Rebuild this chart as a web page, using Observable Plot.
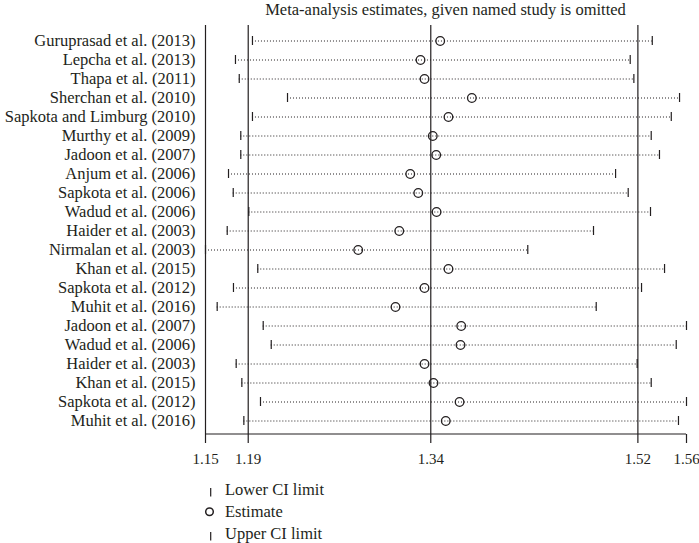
<!DOCTYPE html>
<html><head><meta charset="utf-8">
<script src="https://cdn.jsdelivr.net/npm/d3@7"></script>
<script src="https://cdn.jsdelivr.net/npm/@observablehq/plot@0.6"></script>
<style>
body{margin:0;background:#fff;font-family:"Liberation Serif",serif;color:#231f20;}
#wrap{position:relative;width:699px;height:543px;overflow:hidden;}
#title{position:absolute;left:205px;width:481px;top:1px;text-align:center;font-size:16.5px;line-height:18px;white-space:nowrap;}
#chart{position:absolute;left:0;top:25px;}
#chart svg text{font-family:"Liberation Serif",serif;}
#legend{position:absolute;left:200px;top:479px;font-size:16.5px;line-height:22px;}
.li{display:flex;align-items:center;height:22px;}
.li svg{width:25px;height:22px;flex:none;}
</style></head>
<body><div id="wrap">
<div id="title">Meta-analysis estimates, given named study is omitted</div>
<div id="chart"></div>
<div id="legend"></div>
</div>
<script>
const studies = ["Guruprasad et al. (2013)","Lepcha et al. (2013)","Thapa et al. (2011)","Sherchan et al. (2010)","Sapkota and Limburg (2010)","Murthy et al. (2009)","Jadoon et al. (2007)","Anjum et al. (2006)","Sapkota et al. (2006)","Wadud et al. (2006)","Haider et al. (2003)","Nirmalan et al. (2003)","Khan et al. (2015)","Sapkota et al. (2012)","Muhit et al. (2016)","Jadoon et al. (2007)","Wadud et al. (2006)","Haider et al. (2003)","Khan et al. (2015)","Sapkota et al. (2012)","Muhit et al. (2016)"];
const lower    = [1.1908,1.1764,1.1796,1.2205,1.1908,1.1809,1.1809,1.1705,1.1745,1.1877,1.1694,1.1510,1.1953,1.1747,1.1609,1.1999,1.2067,1.1770,1.1818,1.1976,1.1835];
const estimate = [1.3499,1.3332,1.3366,1.3767,1.3569,1.3436,1.3465,1.3245,1.3313,1.3468,1.3152,1.2804,1.3569,1.3366,1.3120,1.3677,1.3671,1.3366,1.3442,1.3663,1.3546];
const upper    = [1.5296,1.5109,1.5140,1.5527,1.5457,1.5287,1.5357,1.4985,1.5092,1.5281,1.4798,1.4241,1.5400,1.5205,1.4821,1.5586,1.5499,1.5168,1.5287,1.5586,1.5518];
const overall  = [1.1872,1.3419,1.5174];
const tickValues = [1.151,1.1872,1.3419,1.5174,1.5586];
const legendLabels = ["Lower CI limit","Estimate","Upper CI limit"];

const rows = studies.map((s,i)=>({i, name:s, lo:lower[i], est:estimate[i], hi:upper[i]}));
const ink = "#231f20";
const serif = '"Liberation Serif", serif';
const xmin = d3.min(lower), xmax = d3.max(upper);

const plot = Plot.plot({
  width: 699, height: 460,
  marginLeft: 205, marginRight: 13, marginTop: 0, marginBottom: 51,
  style: {fontFamily: serif, fontSize: "15px", color: ink, background: "white"},
  x: {domain: [xmin, xmax]},
  y: {type: "band", domain: d3.range(studies.length), range: [5.2, 405.2], padding: 0},
  marks: [
    Plot.ruleX(overall, {stroke: ink, strokeWidth: 1.2}),
    Plot.ruleX([xmin], {stroke: ink, strokeWidth: 1.2}),
    (index, scales, values, dims) => {
      const y = dims.height - dims.marginBottom;
      return d3.create("svg:line")
        .attr("x1", scales.x(xmin)).attr("x2", scales.x(xmax))
        .attr("y1", y).attr("y2", y)
        .attr("stroke", ink).attr("stroke-width", 1.2).node();
    },
    Plot.ruleY(rows, {y: "i", x1: "lo", x2: "hi", stroke: ink, strokeWidth: 1, strokeDasharray: "1,2"}),
    Plot.tickX(rows, {x: "lo", y: "i", stroke: ink, strokeWidth: 1.2, insetTop: 5, insetBottom: 5}),
    Plot.tickX(rows, {x: "hi", y: "i", stroke: ink, strokeWidth: 1.2, insetTop: 5, insetBottom: 5}),
    Plot.dot(rows, {x: "est", y: "i", r: 4.3, stroke: ink, strokeWidth: 1.3, fill: "none"}),
    Plot.axisX({ticks: tickValues, tickFormat: d3.format(".2f"), tickSize: 9, tickPadding: 10, stroke: ink, fill: ink, strokeWidth: 1.2, fontSize: 15, fontFamily: serif, label: null}),
    Plot.axisY({tickSize: 0, tickPadding: 10, tickFormat: i => studies[i], fill: ink, fontSize: 16.5, fontFamily: serif, label: null})
  ]
});
document.getElementById("chart").appendChild(plot);

const leg = d3.select("#legend");
legendLabels.forEach((lab, k) => {
  const row = leg.append("div").attr("class", "li");
  const s = row.append("svg");
  if (k === 1) s.append("circle").attr("cx", 9.5).attr("cy", 10.7).attr("r", 3.8).attr("fill", "none").attr("stroke", ink).attr("stroke-width", 1.5);
  else s.append("line").attr("x1", 10.7).attr("x2", 10.7).attr("y1", 9).attr("y2", 17.5).attr("stroke", ink).attr("stroke-width", 1.2);
  row.append("span").text(lab);
});
</script>
</body></html>
